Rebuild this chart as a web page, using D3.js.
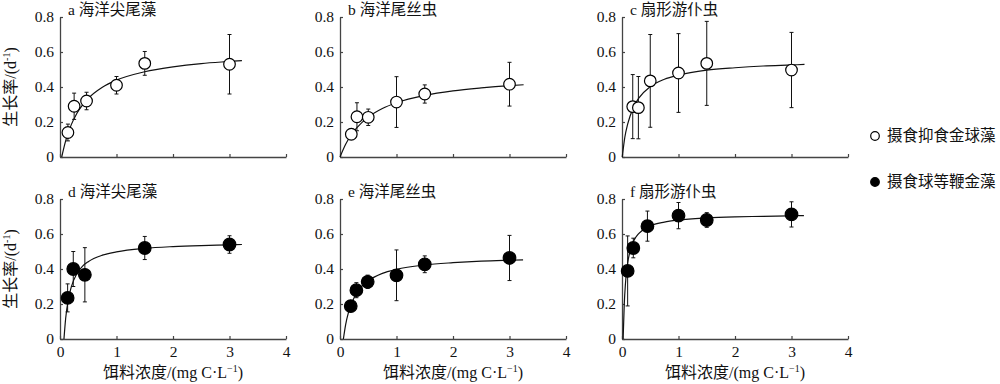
<!DOCTYPE html>
<html>
<head>
<meta charset="utf-8">
<script src="https://cdn.jsdelivr.net/npm/d3@7"></script>
<style>
  body { margin: 0; background: #fff; }
  svg text { font-family: "Liberation Serif", "Noto Sans CJK SC", serif; fill: #111; }
</style>
</head>
<body>
<svg id="chart" width="1000" height="384"></svg>
<script>
// tick labels
const xTicks = [0, 1, 2, 3, 4];
const yTicks = [0, 0.2, 0.4, 0.6, 0.8];
const titles = ["a 海洋尖尾藻", "b 海洋尾丝虫", "c 扇形游仆虫", "d 海洋尖尾藻", "e 海洋尾丝虫", "f 扇形游仆虫"];
const legendNames = ["摄食抑食金球藻", "摄食球等鞭金藻"];

// a: open circles
const concA = [0.14, 0.25, 0.47, 1, 1.5, 3];
const rateA = [0.14, 0.29, 0.32, 0.41, 0.535, 0.53];
const sdA = [0.048, 0.075, 0.05, 0.05, 0.068, 0.17];
const fitXA = [0.03, 0.1, 0.2, 0.3, 0.5, 0.75, 1, 1.5, 2, 2.5, 3, 3.22];
const fitYA = [0, 0.092, 0.185, 0.25, 0.335, 0.399, 0.439, 0.487, 0.515, 0.534, 0.546, 0.551];

// b
const concB = [0.2, 0.3, 0.5, 1, 1.5, 3];
const rateB = [0.13, 0.23, 0.227, 0.314, 0.36, 0.416];
const sdB = [0.03, 0.08, 0.047, 0.145, 0.052, 0.125];
const fitXB = [0, 0.1, 0.2, 0.3, 0.5, 0.75, 1, 1.5, 2, 2.5, 3, 3.25];
const fitYB = [0, 0.073, 0.127, 0.168, 0.228, 0.277, 0.31, 0.352, 0.378, 0.395, 0.408, 0.413];

// c
const concC = [0.19, 0.29, 0.5, 1, 1.5, 3];
const rateC = [0.288, 0.282, 0.435, 0.48, 0.535, 0.497];
const sdC = [0.183, 0.178, 0.265, 0.225, 0.24, 0.215];
const fitXC = [0.005, 0.05, 0.1, 0.2, 0.3, 0.5, 0.75, 1, 1.5, 2, 2.5, 3, 3.23];
const fitYC = [0, 0.113, 0.188, 0.282, 0.338, 0.402, 0.444, 0.468, 0.496, 0.51, 0.52, 0.526, 0.529];

// d: filled circles
const concD = [0.135, 0.235, 0.44, 1.5, 3];
const rateD = [0.235, 0.4, 0.367, 0.52, 0.54];
const sdD = [0.08, 0.1, 0.155, 0.066, 0.05];
const fitXD = [0.07, 0.1, 0.15, 0.2, 0.3, 0.4, 0.5, 0.75, 1, 1.5, 2, 2.5, 3, 3.22];
const fitYD = [0, 0.117, 0.231, 0.298, 0.374, 0.416, 0.442, 0.479, 0.498, 0.518, 0.528, 0.534, 0.538, 0.54];

// e
const concE = [0.19, 0.29, 0.49, 1, 1.5, 3];
const rateE = [0.188, 0.279, 0.327, 0.364, 0.427, 0.463];
const sdE = [0.01, 0.043, 0.038, 0.145, 0.048, 0.129];
const fitXE = [0.06, 0.1, 0.15, 0.2, 0.3, 0.4, 0.5, 0.75, 1, 1.5, 2, 2.5, 3, 3.24];
const fitYE = [0, 0.082, 0.152, 0.2, 0.266, 0.306, 0.333, 0.375, 0.398, 0.423, 0.436, 0.445, 0.45, 0.452];

// f
const concF = [0.1, 0.2, 0.45, 1, 1.5, 3];
const rateF = [0.389, 0.52, 0.645, 0.705, 0.68, 0.712];
const sdF = [0.2, 0.056, 0.086, 0.075, 0.042, 0.072];
const fitXF = [0.02, 0.04, 0.06, 0.08, 0.1, 0.15, 0.2, 0.3, 0.5, 0.75, 1, 1.5, 2, 2.5, 3, 3.22];
const fitYF = [0, 0.199, 0.311, 0.384, 0.434, 0.511, 0.556, 0.604, 0.646, 0.668, 0.68, 0.692, 0.698, 0.701, 0.704, 0.705];

const panels = [
  { conc: concA, rate: rateA, sd: sdA, fx: fitXA, fy: fitYA, filled: false },
  { conc: concB, rate: rateB, sd: sdB, fx: fitXB, fy: fitYB, filled: false },
  { conc: concC, rate: rateC, sd: sdC, fx: fitXC, fy: fitYC, filled: false },
  { conc: concD, rate: rateD, sd: sdD, fx: fitXD, fy: fitYD, filled: true },
  { conc: concE, rate: rateE, sd: sdE, fx: fitXE, fy: fitYE, filled: true },
  { conc: concF, rate: rateF, sd: sdF, fx: fitXF, fy: fitYF, filled: true }
];

const svg = d3.select("#chart");
const colX = [60, 340, 622],
      rowY = [17, 199],
      plotW = 226,
      plotH = 140;
const axisColor = "#444";
const fmt = d => d === 0 ? "0" : d3.format(".1f")(d);

panels.forEach(function(p, i) {
  const col = i % 3, row = Math.floor(i / 3);
  const x = d3.scaleLinear().domain([0, 4]).range([0, plotW]);
  const y = d3.scaleLinear().domain([0, 0.8]).range([plotH, 0]);
  const g = svg.append("g").attr("transform", `translate(${colX[col]},${rowY[row]})`);

  // axes
  const xAxis = d3.axisBottom(x).tickValues(xTicks).tickSizeInner(-3).tickSizeOuter(0).tickPadding(7)
      .tickFormat(row === 1 ? d3.format("d") : () => "");
  const yAxis = d3.axisLeft(y).tickValues(yTicks).tickSizeInner(-3).tickSizeOuter(0).tickPadding(6)
      .tickFormat(fmt);
  const gx = g.append("g").attr("transform", `translate(0,${plotH})`).call(xAxis);
  const gy = g.append("g").call(yAxis);
  [gx, gy].forEach(function(a) {
    a.select(".domain").attr("stroke", axisColor).attr("stroke-width", 1.3);
    a.selectAll(".tick line").attr("stroke", axisColor).attr("stroke-width", 1.2);
    a.selectAll(".tick text").attr("font-size", 15.5).attr("fill", "#111")
      .style("font-family", "'Liberation Serif', serif");
  });

  // title
  g.append("text")
    .attr("x", 8).attr("y", -2)
    .attr("font-size", 15.5)
    .text(titles[i]);

  // error bars
  const pts = p.conc.map((c, k) => ({ c: c, r: p.rate[k], s: p.sd[k] }));
  const eb = g.append("g").attr("stroke", "#111").attr("stroke-width", 1);
  pts.forEach(function(d) {
    const xx = x(d.c), y1 = y(d.r - d.s), y2 = y(d.r + d.s);
    eb.append("line").attr("x1", xx).attr("x2", xx).attr("y1", y1).attr("y2", y2);
    eb.append("line").attr("x1", xx - 2).attr("x2", xx + 2).attr("y1", y1).attr("y2", y1);
    eb.append("line").attr("x1", xx - 2).attr("x2", xx + 2).attr("y1", y2).attr("y2", y2);
  });

  // fitted curve
  const fit = p.fx.map((v, k) => [v, p.fy[k]]);
  g.append("path")
    .datum(fit)
    .attr("fill", "none")
    .attr("stroke", "#111")
    .attr("stroke-width", 1.2)
    .attr("d", d3.line().x(d => x(d[0])).y(d => y(d[1])).curve(d3.curveMonotoneX));

  // points
  g.selectAll("circle.pt")
    .data(pts)
    .enter().append("circle")
      .attr("class", "pt")
      .attr("cx", d => x(d.c))
      .attr("cy", d => y(d.r))
      .attr("r", p.filled ? 6.3 : 5.8)
      .attr("fill", p.filled ? "#000" : "#fff")
      .attr("stroke", "#000")
      .attr("stroke-width", 1.2);

  // axis titles
  if (col === 0) {
    const yl = g.append("text")
      .attr("transform", `translate(${-44},${plotH / 2}) rotate(-90)`)
      .attr("text-anchor", "middle")
      .attr("font-size", 16);
    yl.append("tspan").text("生长率/(d");
    yl.append("tspan").attr("font-size", 10).attr("dy", -6).text("-1");
    yl.append("tspan").attr("dy", 6).text(")");
  }
  if (row === 1) {
    const xl = g.append("text")
      .attr("x", plotW / 2).attr("y", plotH + 39)
      .attr("text-anchor", "middle")
      .attr("font-size", 16);
    xl.append("tspan").text("饵料浓度/(mg C·L");
    xl.append("tspan").attr("font-size", 10).attr("dy", -6).text("−1");
    xl.append("tspan").attr("dy", 6).text(")");
  }
});

// legend
const legend = svg.append("g").attr("transform", "translate(875,136)");
legendNames.forEach(function(name, k) {
  const row = legend.append("g").attr("transform", `translate(0,${k * 46})`);
  row.append("circle")
    .attr("r", 4.3)
    .attr("fill", k === 0 ? "#fff" : "#000")
    .attr("stroke", "#000")
    .attr("stroke-width", 1.2);
  row.append("text")
    .attr("x", 12).attr("y", 0).attr("dy", "0.35em")
    .attr("font-size", 15.5)
    .text(name);
});
</script>
</body>
</html>
